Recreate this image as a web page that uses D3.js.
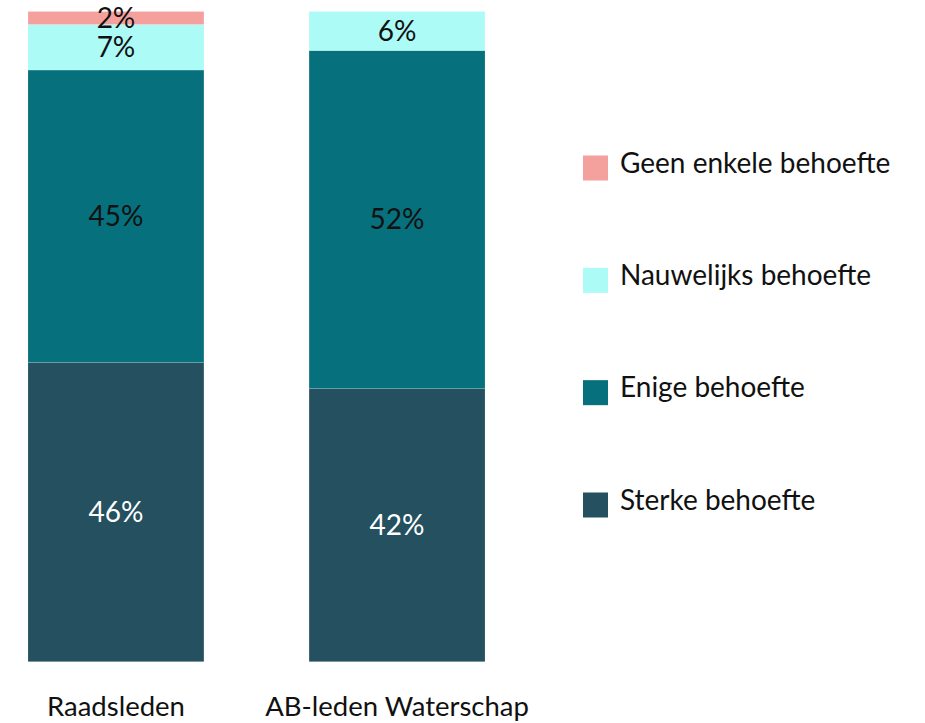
<!DOCTYPE html>
<html>
<head>
<meta charset="utf-8">
<script src="https://cdn.jsdelivr.net/npm/d3@7"></script>
<style>
  body { margin: 0; background: #fff; }
  text { font-family: Lato, "Open Sans", sans-serif; }
</style>
</head>
<body>
<svg id="graph" width="925" height="723"></svg>
<script>
// stacked shares per group (percent), bottom to top
var categories = ["Raadsleden", "AB-leden Waterschap"];
var series = ["Sterke behoefte", "Enige behoefte", "Nauwelijks behoefte", "Geen enkele behoefte"];
var sterke = [46, 42];
var enige = [45, 52];
var nauwelijks = [7, 6];
var geen = [2, 0];
var colors = ["#24505f", "#07707d", "#acfbf6", "#f4a09d"];
var labelColors = ["#ffffff", "#111111", "#111111", "#111111"];

var values = [sterke, enige, nauwelijks, geen];
var rows = categories.map(function(c, i) {
	var r = {cat: c};
	series.forEach(function(s, j) { r[s] = values[j][i]; });
	return r;
});

var svg = d3.select("#graph");

var xScale = d3.scaleBand().domain(categories).range([28, 485]).paddingInner(0.374).paddingOuter(0),
	yScale = d3.scaleLinear().domain([0, 100]).range([661.7, 11.5]);

var stack = d3.stack().keys(series)(rows);

var layer = svg.selectAll(".layer")
	.data(stack)
	.enter().append("g")
	.attr("class", "layer")
	.attr("fill", function(d, i) { return colors[i]; });

layer.selectAll("rect")
	.data(function(d) { return d; })
	.enter().append("rect")
	.attr("x", function(d) { return xScale(d.data.cat); })
	.attr("y", function(d) { return yScale(d[1]); })
	.attr("width", xScale.bandwidth())
	.attr("height", function(d) { return yScale(d[0]) - yScale(d[1]); })
	.attr("stroke", "#ffffff")
	.attr("stroke-opacity", 0.25)
	.attr("stroke-width", 0.6);

// value labels in the middle of each segment
stack.forEach(function(s, i) {
	svg.append("g").selectAll("text")
		.data(s.filter(function(d) { return d[1] - d[0] > 0; }))
		.enter().append("text")
		.attr("x", function(d) { return xScale(d.data.cat) + xScale.bandwidth() / 2; })
		.attr("y", function(d) { return yScale((d[0] + d[1]) / 2); })
		.attr("dy", "0.35em")
		.attr("text-anchor", "middle")
		.attr("font-size", "28px")
		.attr("fill", labelColors[i])
		.text(function(d) { return (d[1] - d[0]) + "%"; });
});

// category labels
svg.append("g").selectAll("text")
	.data(categories)
	.enter().append("text")
	.attr("x", function(d) { return xScale(d) + xScale.bandwidth() / 2; })
	.attr("y", 716)
	.attr("text-anchor", "middle")
	.attr("font-size", "27.5px")
	.attr("fill", "#111")
	.text(function(d) { return d; });

// legend, top entry first
var legendY = d3.scalePoint().domain(series.slice().reverse()).range([168, 505]);
var legend = svg.append("g").selectAll("g")
	.data(series.slice().reverse())
	.enter().append("g")
	.attr("transform", function(d) { return "translate(583," + legendY(d) + ")"; });

legend.append("rect")
	.attr("x", 0)
	.attr("y", -12.5)
	.attr("width", 25)
	.attr("height", 25)
	.attr("fill", function(d) { return colors[series.indexOf(d)]; });

legend.append("text")
	.attr("x", 37)
	.attr("y", -5)
	.attr("dy", "0.35em")
	.attr("font-size", "28px")
	.attr("fill", "#111")
	.text(function(d) { return d; });
</script>
</body>
</html>
